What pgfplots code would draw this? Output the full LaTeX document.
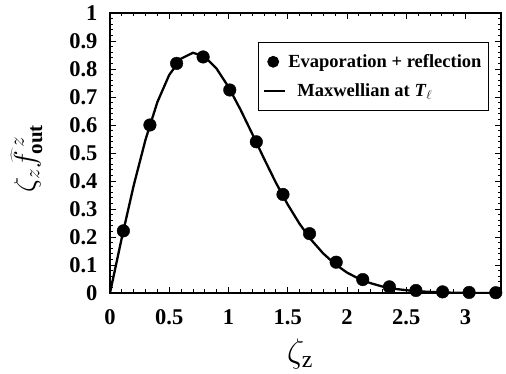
\RequirePackage{fix-cm}
\documentclass[border=0pt]{standalone}
\usepackage{fontspec}
\setmainfont{Liberation Serif}
\usepackage{pgfplots}
\pgfplotsset{compat=1.18}
\begin{document}
\begin{tikzpicture}
\begin{axis}[
  at={(0pt,0pt)}, anchor=south west,
  scale only axis, width=391pt, height=280pt,
  xmin=0, xmax=3.3, ymin=0, ymax=1,
  xtick={0,0.5,1,1.5,2,2.5,3},
  xticklabels={0,0.5,1,1.5,2,2.5,3},
  ytick={0,0.1,0.2,0.3,0.4,0.5,0.6,0.7,0.8,0.9,1},
  yticklabels={0,0.1,0.2,0.3,0.4,0.5,0.6,0.7,0.8,0.9,1},
  /pgf/number format/assume math mode=true,
  minor x tick num=4, minor y tick num=4,
  tick align=inside, tick pos=both,
  major tick length=6pt, minor tick length=3.5pt,
  every tick/.style={line width=0.8pt, black},
  axis line style={line width=1.1pt},
  ticklabel style={font=\fontsize{22.5}{26}\selectfont\bfseries},
  xticklabel style={yshift=-13pt},
  yticklabel style={xshift=-9pt},
  xlabel={\fontsize{34}{38}\selectfont$\zeta_{\mathrm{z}}$},
  xlabel style={at={(axis description cs:0.486,0)}, anchor=north, yshift=-42pt},
  ylabel={\fontsize{30}{34}\selectfont$\zeta_{z}\widehat{f}^{\,z}_{\mathbf{out}}$},
  ylabel style={at={(axis description cs:0,0.48)}, anchor=south, yshift=64pt},
  legend style={at={(0.969,0.896)}, anchor=north east, draw=black, line width=0.8pt,
    font=\fontsize{18.5}{21}\selectfont\bfseries, row sep=11pt,
    inner xsep=5pt, inner ysep=10pt, legend cell align=left},
]
\addplot[only marks, mark=*, mark size=6.3pt, black,
  legend image code/.code={\fill[black] (9pt,0pt) circle (5.5pt);}]
coordinates {
(0.113,0.222) (0.337,0.600) (0.562,0.820) (0.786,0.843) (1.011,0.725)
(1.235,0.540) (1.460,0.352) (1.684,0.212) (1.909,0.110) (2.133,0.048)
(2.358,0.022) (2.582,0.009) (2.807,0.004) (3.031,0.002) (3.256,0.001)
};
\addlegendentry{Evaporation + reflection}
\addplot[black, line width=2.3pt,
  legend image code/.code={\draw[black, line width=2.3pt] (0pt,0pt) -- (21pt,0pt);}]
coordinates {
(0,0) (0.1,0.198) (0.2,0.384) (0.3,0.548) (0.4,0.682) (0.5,0.779)
(0.6,0.837) (0.7,0.858) (0.8,0.844) (0.9,0.801) (1.0,0.736)
(1.1,0.656) (1.2,0.569) (1.3,0.480) (1.4,0.394) (1.5,0.316)
(1.6,0.247) (1.7,0.189) (1.8,0.141) (1.9,0.103) (2.0,0.073)
(2.1,0.051) (2.2,0.035) (2.3,0.023) (2.4,0.015) (2.5,0.010)
(2.6,0.006) (2.7,0.004) (2.8,0.002) (2.9,0.001) (3.0,0.001)
(3.1,0.000) (3.2,0.000) (3.3,0.000)
};
\addlegendentry{\hspace{9pt}Maxwellian at \textit{T}$_{\ell}$}
\end{axis}
\pgfresetboundingbox
\path (-110pt,-81pt) rectangle (396pt,293pt);
\end{tikzpicture}
\end{document}
